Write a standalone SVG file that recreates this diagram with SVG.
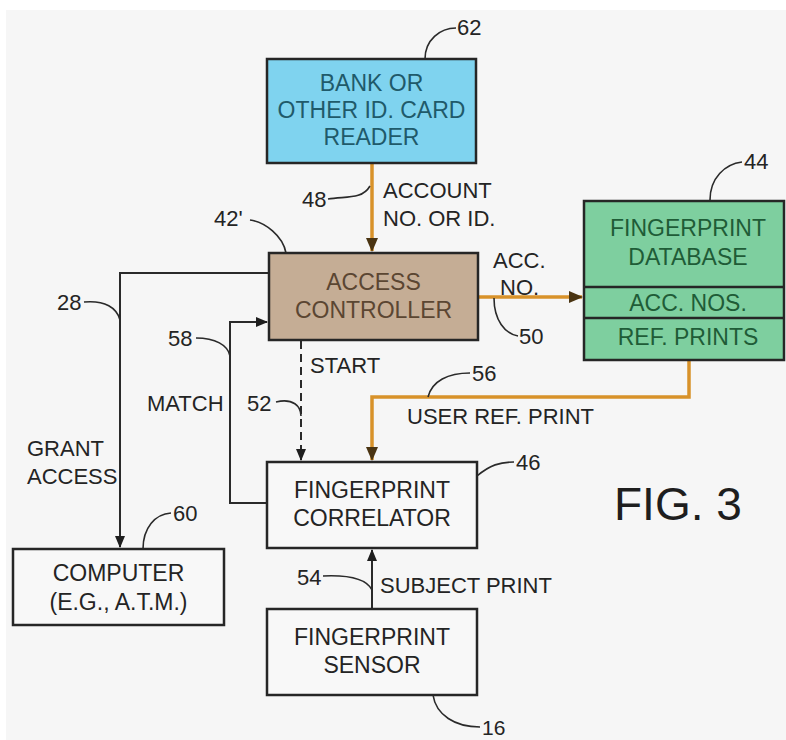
<svg xmlns="http://www.w3.org/2000/svg" width="786" height="740" viewBox="0 0 786 740">
  <style>
    text { font-family: "Liberation Sans", Arial, sans-serif; font-size: 22px; fill: #242424; }
    .box { stroke: #262626; stroke-width: 2.5; }
    .plain { fill: #f8f8f8; }
    .mid { text-anchor: middle; }
    .wire { fill: none; stroke: #2a2a2a; stroke-width: 2; }
    .dash { stroke-dasharray: 8 5; }
    .feed { fill: none; stroke: #d8922a; stroke-width: 3.5; }
    .lead { fill: none; stroke: #2a2a2a; stroke-width: 1.6; }
  </style>
  <defs>
    <marker id="arrow" viewBox="0 0 12 12" refX="11" refY="6" markerWidth="12" markerHeight="12" markerUnits="userSpaceOnUse" orient="auto">
      <path d="M0,1 L12,6 L0,11 Z" fill="#1e1e1e"/>
    </marker>
    <marker id="arrowFeed" viewBox="0 0 14 14" refX="13" refY="7" markerWidth="14" markerHeight="14" markerUnits="userSpaceOnUse" orient="auto">
      <path d="M0,1 L14,7 L0,13 Z" fill="#4a3412"/>
    </marker>
  </defs>

  <!-- page -->
  <rect x="0" y="0" width="786" height="740" fill="#ffffff"/>
  <rect x="6" y="10" width="780" height="730" fill="#f6f6f6"/>

  <!-- connectors -->
  <g id="connectors">
    <!-- account number from card reader -->
    <path class="feed" d="M372,163 V251" marker-end="url(#arrowFeed)"/>
    <!-- account number to database -->
    <path class="feed" d="M478,297 H582" marker-end="url(#arrowFeed)"/>
    <!-- user reference print -->
    <path class="feed" d="M689,361 V397 H372 V460" marker-end="url(#arrowFeed)"/>
    <!-- start -->
    <path class="wire dash" d="M301,341 V460" marker-end="url(#arrow)"/>
    <!-- match -->
    <path class="wire" d="M267,503 H230 V322 H267" marker-end="url(#arrow)"/>
    <!-- grant access -->
    <path class="wire" d="M269,273 H120 V547" marker-end="url(#arrow)"/>
    <!-- subject print -->
    <path class="wire" d="M372,609 V550" marker-end="url(#arrow)"/>

    <!-- reference leaders -->
    <path class="lead" d="M425,59 C425,40 440,28 456,28"/>
    <path class="lead" d="M328,199 C345,196 362,200 370,186"/>
    <path class="lead" d="M286,253 C283,236 265,222 250,220"/>
    <path class="lead" d="M710,200 C710,178 725,164 742,162"/>
    <path class="lead" d="M494,298 C494,320 505,334 518,336"/>
    <path class="lead" d="M84,302 C105,300 117,308 120,320"/>
    <path class="lead" d="M196,338 C215,338 228,345 230,356"/>
    <path class="lead" d="M276,402 C293,398 301,406 301,416"/>
    <path class="lead" d="M428,397 C432,381 448,373 470,373"/>
    <path class="lead" d="M477,476 C490,465 500,462 514,462"/>
    <path class="lead" d="M143,549 C143,528 155,514 171,513"/>
    <path class="lead" d="M323,576 C345,575 366,578 372,590"/>
    <path class="lead" d="M433,695 C436,715 455,727 480,727"/>
  </g>

  <!-- card reader -->
  <g id="card-reader">
    <rect class="box" x="267" y="59" width="209" height="104" fill="#7fd3ef" stroke="#1c4652"/>
    <text class="mid" x="371.5" y="91" style="font-size:23px;fill:#1f5a6a">BANK OR</text>
    <text class="mid" x="371.5" y="118" style="font-size:23px;fill:#1f5a6a">OTHER ID. CARD</text>
    <text class="mid" x="371.5" y="145" style="font-size:23px;fill:#1f5a6a">READER</text>
  </g>

  <!-- access controller -->
  <g id="access-controller">
    <rect class="box" x="269" y="253" width="209" height="87" fill="#c5ad95"/>
    <text class="mid" x="373.5" y="290" style="font-size:23px;fill:#5b4632">ACCESS</text>
    <text class="mid" x="373.5" y="318" style="font-size:23px;fill:#5b4632">CONTROLLER</text>
  </g>

  <!-- fingerprint database -->
  <g id="fingerprint-database">
    <rect class="box" x="584" y="201" width="200" height="159" fill="#7ecf9f" stroke="#1e3a28"/>
    <line class="box" x1="584" y1="287" x2="784" y2="287" stroke="#1e3a28"/>
    <line class="box" x1="584" y1="318" x2="784" y2="318" stroke="#1e3a28"/>
    <text class="mid" x="688" y="236" style="font-size:23px;fill:#1f5c37">FINGERPRINT</text>
    <text class="mid" x="688" y="265" style="font-size:23px;fill:#1f5c37">DATABASE</text>
    <text class="mid" x="688" y="311" style="font-size:23px;fill:#1f5c37">ACC. NOS.</text>
    <text class="mid" x="688" y="345" style="font-size:23px;fill:#1f5c37">REF. PRINTS</text>
  </g>

  <!-- fingerprint correlator -->
  <g id="fingerprint-correlator">
    <rect class="box plain" x="267" y="462" width="210" height="86"/>
    <text class="mid" x="372" y="498" style="font-size:23px">FINGERPRINT</text>
    <text class="mid" x="372" y="526" style="font-size:23px">CORRELATOR</text>
  </g>

  <!-- computer -->
  <g id="computer">
    <rect class="box plain" x="13" y="549" width="211" height="76"/>
    <text class="mid" x="118.5" y="581" style="font-size:23px">COMPUTER</text>
    <text class="mid" x="118.5" y="610" style="font-size:23px">(E.G., A.T.M.)</text>
  </g>

  <!-- fingerprint sensor -->
  <g id="fingerprint-sensor">
    <rect class="box plain" x="267" y="609" width="210" height="86"/>
    <text class="mid" x="372" y="645" style="font-size:23px">FINGERPRINT</text>
    <text class="mid" x="372" y="673" style="font-size:23px">SENSOR</text>
  </g>

  <!-- signal labels -->
  <g id="labels">
    <text x="383" y="198">ACCOUNT</text>
    <text x="383" y="226">NO. OR ID.</text>
    <text x="493" y="268">ACC.</text>
    <text x="500" y="295">NO.</text>
    <text x="310" y="373">START</text>
    <text x="407" y="424">USER REF. PRINT</text>
    <text x="147" y="411">MATCH</text>
    <text x="27" y="456">GRANT</text>
    <text x="27" y="484">ACCESS</text>
    <text x="380" y="593">SUBJECT PRINT</text>
    <text x="614" y="520" style="font-size:46px;fill:#1e1e1e">FIG. 3</text>
  </g>

  <!-- reference numerals -->
  <g id="numerals">
    <text x="457" y="35">62</text>
    <text x="302" y="207">48</text>
    <text x="214" y="226">42'</text>
    <text x="744" y="169">44</text>
    <text x="519" y="344">50</text>
    <text x="57" y="310">28</text>
    <text x="168" y="346">58</text>
    <text x="247" y="411">52</text>
    <text x="472" y="381">56</text>
    <text x="516" y="470">46</text>
    <text x="173" y="521">60</text>
    <text x="297" y="585">54</text>
    <text x="482" y="735" style="font-size:21px">16</text>
  </g>
</svg>
